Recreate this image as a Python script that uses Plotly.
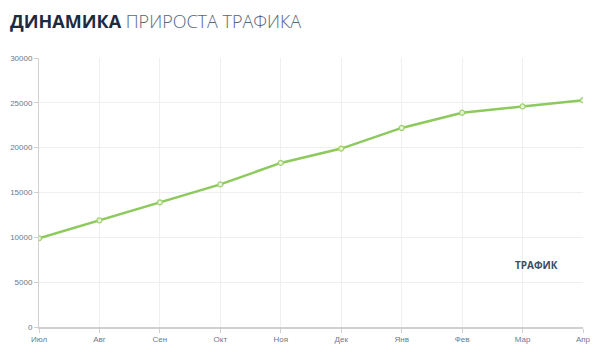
import plotly.graph_objects as go

months = ["Июл", "Авг", "Сен", "Окт", "Ноя", "Дек", "Янв", "Фев", "Мар", "Апр"]
traffic = [9900, 11900, 13900, 15900, 18300, 19900, 22200, 23900, 24600, 25300]
y_ticks = [0, 5000, 10000, 15000, 20000, 25000, 30000]
y_tick_labels = ["0", "5000", "10000", "15000", "20000", "25000", "30000"]
series_name = "ТРАФИК"

fig = go.Figure()
fig.add_trace(go.Scatter(
    x=months, y=traffic, mode="lines+markers", name=series_name,
    line=dict(color="#8dc95c", width=2.5),
    marker=dict(size=5, color="#e4f2d6", line=dict(color="#9fd070", width=1.2)),
    showlegend=False,
))

fig.add_annotation(
    x=0.915, y=0.23, xref="paper", yref="paper", xanchor="center", yanchor="middle",
    text="<b>" + series_name + "</b>",
    showarrow=False, font=dict(family="Open Sans", size=10, color="#3b4d63"),
)

fig.update_layout(
    width=604, height=364,
    margin=dict(l=39, r=21, t=58, b=37),
    paper_bgcolor="white", plot_bgcolor="white",
    title=dict(
        text="<b>ДИНАМИКА</b> <span style='color:#56677c'>ПРИРОСТА ТРАФИКА</span>",
        x=0.0, xanchor="left", xref="container", y=0.94, yanchor="middle",
        font=dict(family="Open Sans", size=18, color="#1b2b42", weight=300),
        pad=dict(l=10),
    ),
    xaxis=dict(
        type="category", range=[0, len(months) - 1], automargin=False,
        showgrid=True, gridcolor="#efefef", gridwidth=1,
        showline=True, linecolor="#d0d0d0", linewidth=1.5,
        ticks="outside", ticklen=4, tickcolor="#d0d0d0",
        tickfont=dict(family="Liberation Sans", size=8, color="#6b7a8c"),
        zeroline=False,
    ),
    yaxis=dict(
        range=[0, 30000], tickvals=y_ticks, ticktext=y_tick_labels, automargin=False,
        showgrid=True, gridcolor="#efefef", gridwidth=1,
        showline=True, linecolor="#d0d0d0", linewidth=1,
        ticks="outside", ticklen=4, tickcolor="#d0d0d0",
        tickfont=dict(family="Liberation Sans", size=8, color="#6b7a8c"),
        zeroline=False,
    ),
)

fig.write_html("out.html", config={"displayModeBar": False},
               post_script="document.body.style.margin='0';")
